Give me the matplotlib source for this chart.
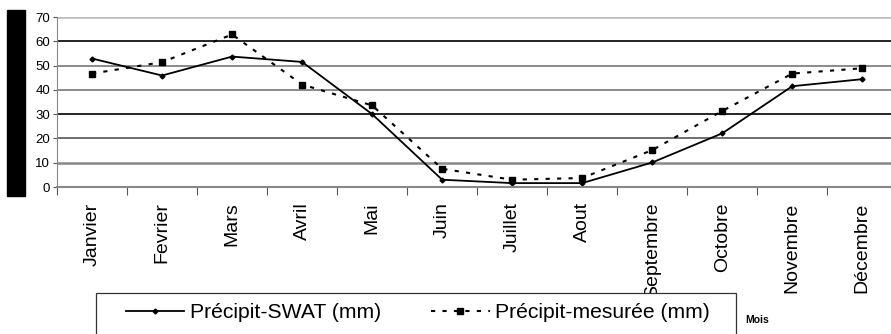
import matplotlib
matplotlib.use("Agg")
import matplotlib.pyplot as plt
from matplotlib.patches import Rectangle

plt.rcParams["font.family"] = ["Liberation Sans", "DejaVu Sans"]

mois = ["Janvier", "Fevrier", "Mars", "Avril", "Mai", "Juin", "Juillet",
        "Aout", "Septembre", "Octobre", "Novembre", "Décembre"]
precip_swat = [52.9, 45.9, 53.7, 51.5, 30.0, 3.0, 1.6, 1.6, 10.1, 22.1, 41.5, 44.4]
precip_mesuree = [46.7, 51.4, 62.8, 42.2, 33.6, 7.5, 3.0, 3.7, 15.2, 31.3, 46.7, 48.9]
y_ticks = [0, 10, 20, 30, 40, 50, 60, 70]


def main() -> None:
    fig = plt.figure(figsize=(8.91, 3.34), dpi=100)
    ax = fig.add_axes([57 / 891, 1 - 187 / 334, 1 - 57 / 891, 170 / 334])

    x = list(range(len(mois)))
    ax.plot(x, precip_swat, color="black", linewidth=1.3, marker="D",
            markersize=2.5, label="Précipit-SWAT (mm)")
    ax.plot(x, precip_mesuree, color="black", linewidth=1.5,
            linestyle=(0, (2, 3.5)), marker="s", markersize=5,
            label="Précipit-mesurée (mm)")

    ax.set_xlim(-0.5, 11.41)
    ax.set_ylim(0, 70)
    ax.set_yticks(y_ticks)
    ax.set_xticks([i - 0.5 for i in range(12)])
    ax.set_xticklabels([])
    ax.set_xticks(x, minor=True)
    ax.set_xticklabels(mois, minor=True, rotation=90, fontsize=14)
    ax.tick_params(axis="x", which="minor", length=0, pad=11)
    ax.tick_params(axis="x", which="major", length=6, color="#555555",
                   direction="out")
    ax.tick_params(axis="y", labelsize=9.5, length=3, color="#555555", pad=2)

    ax.yaxis.grid(True)
    grid_styles = {0: ("#888888", 0), 10: ("#888888", 1.8), 20: ("#555555", 1.2),
                   30: ("black", 1.2), 40: ("#777777", 1.2), 50: ("#777777", 1.2),
                   60: ("black", 1.2), 70: ("#bbbbbb", 1.8)}
    for val, gl in zip(y_ticks, ax.get_ygridlines()):
        c, lw = grid_styles[val]
        gl.set_color(c)
        gl.set_linewidth(lw)

    for side in ["top", "right"]:
        ax.spines[side].set_visible(False)
    ax.spines["left"].set_color("#888888")
    ax.spines["bottom"].set_color("#888888")
    ax.spines["bottom"].set_linewidth(1.5)

    # black bar on the left
    fig.patches.append(Rectangle((7 / 891, 1 - 196 / 334), 18 / 891, 186 / 334,
                                 transform=fig.transFigure, color="black"))

    # legend frame (runs off the bottom of the figure)
    fig.patches.append(Rectangle((96 / 891, -0.05), 640 / 891, 1.05 - 293 / 334,
                                 transform=fig.transFigure, fill=True,
                                 facecolor="white", edgecolor="#333333",
                                 linewidth=0.9, zorder=5))

    leg = fig.legend(loc="center left", bbox_to_anchor=(120 / 891, 1 - 313 / 334),
                     ncol=2, fontsize=15.2, frameon=False,
                     handlelength=2.75, columnspacing=2.4,
                     handletextpad=0.25, borderpad=0.3, borderaxespad=0)
    leg.set_zorder(6)

    fig.text(745 / 891, 1 - 320 / 334, "Mois", fontsize=7.5,
             fontweight="bold", va="center")

    plt.savefig("out.png", dpi=100)


if __name__ == "__main__":
    main()
